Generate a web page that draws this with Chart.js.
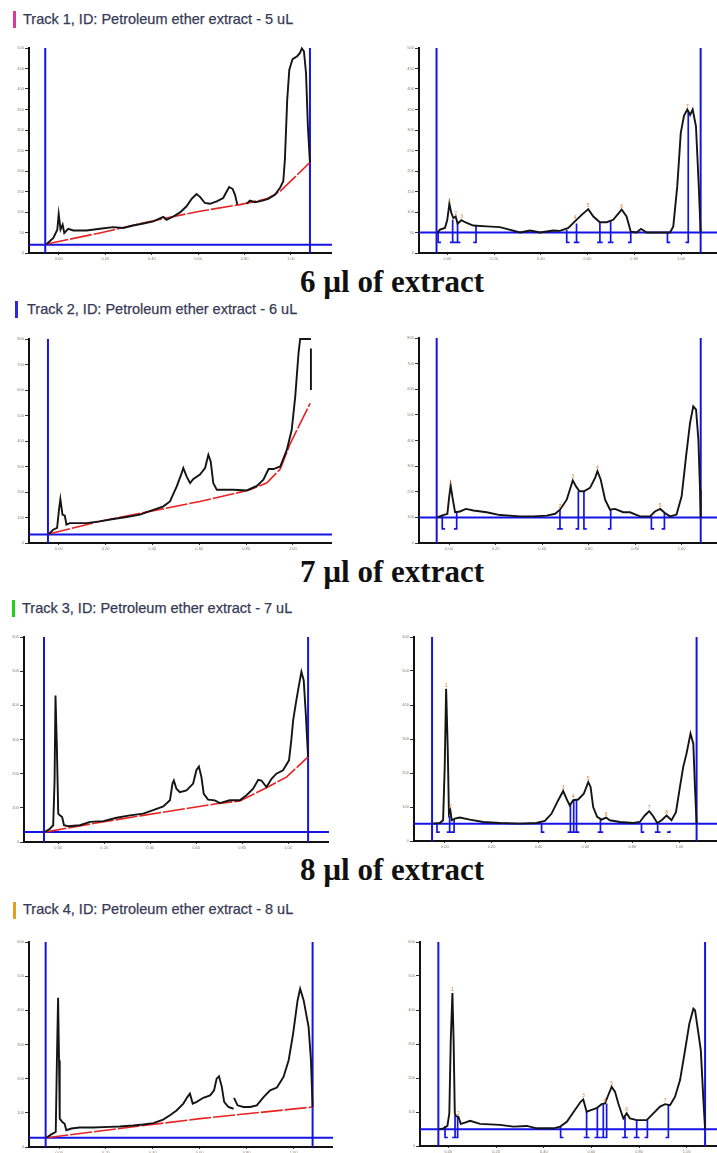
<!DOCTYPE html>
<html>
<head>
<meta charset="utf-8">
<script src="https://cdn.jsdelivr.net/npm/chart.js@4.4.1/dist/chart.umd.min.js"></script>
<style>
body{margin:0;width:717px;height:1153px;overflow:hidden;background:#fff;position:relative;font-family:"Liberation Sans",Arial,sans-serif}
.track{position:absolute;font-size:14.5px;color:#363a55;white-space:nowrap;line-height:1;-webkit-text-stroke:0.25px #363a55}
.bar{position:absolute;width:3px;height:17px}
.dose{position:absolute;font-family:"Liberation Serif","Times New Roman",serif;font-weight:bold;font-size:31px;line-height:1;white-space:nowrap;color:#111}
.panel{position:absolute}
</style>
</head>
<body>
<div class="bar" style="left:13px;top:11px;background:#e0379b"></div>
<div class="track" style="left:23px;top:12px">Track 1, ID: Petroleum ether extract - 5 uL</div>
<div class="dose" style="left:300px;top:266px">6 µl of extract</div>
<div class="bar" style="left:15px;top:301px;background:#2a2ae0"></div>
<div class="track" style="left:27px;top:302px">Track 2, ID: Petroleum ether extract - 6 uL</div>
<div class="dose" style="left:300px;top:556px">7 µl of extract</div>
<div class="bar" style="left:12px;top:600px;background:#22cc22"></div>
<div class="track" style="left:22px;top:601px">Track 3, ID: Petroleum ether extract - 7 uL</div>
<div class="dose" style="left:300px;top:854px">8 µl of extract</div>
<div class="bar" style="left:13px;top:902px;background:#e0a020"></div>
<div class="track" style="left:23px;top:902px">Track 4, ID: Petroleum ether extract - 8 uL</div>

<script>
// tick values
const xTickVals = [0, 0.2, 0.4, 0.6, 0.8, 1.0]
const yTicks500 = [0, 50, 100, 150, 200, 250, 300, 350, 400, 450, 500]
const yTicks800 = [0, 100, 200, 300, 400, 500, 600, 700, 800]
const yTicks600 = [0, 100, 200, 300, 400, 500, 600]

// Track 1 - 5 uL
const t1RawRf = [-0.053,-0.024,-0.007,-0.001,0.007,0.016,0.023,0.040,0.062,0.119,0.177,0.234,0.277,0.320,0.364,0.407,0.450,0.464,0.493,0.522,0.550,0.572,0.593,0.608,0.629,0.651,0.680,0.708,0.723,0.734,0.749,0.759,0.769,0.775,0.809,0.823,0.845,0.874,0.902,0.931,0.953,0.967,0.974,0.984,0.993,1.007,1.027,1.039,1.047,1.056,1.065,1.073,1.082]
const t1RawAu = [22,37,57,95,57,69,49,59,55,55,59,63,61,67,72,77,88,81,89,99,114,132,144,137,122,120,126,134,150,161,156,142,118,null,120,128,124,127,132,142,159,175,228,374,447,473,480,488,499,492,439,309,220]
const t1BaseRf = [-0.053,0.177,0.392,0.608,0.780,0.895,0.953,1.082]
const t1BaseAu = [22,49,77,102,118,132,150,221]
const t1CorrRf = [-0.043,-0.031,-0.010,0.000,0.009,0.017,0.026,0.036,0.044,0.061,0.076,0.111,0.168,0.225,0.254,0.311,0.354,0.397,0.454,0.482,0.518,0.546,0.575,0.603,0.625,0.653,0.682,0.710,0.746,0.767,0.785,0.810,0.829,0.853,0.953,0.967,0.984,0.999,1.013,1.027,1.039,1.050,1.064,1.076,1.084]
const t1CorrAu = [49,57,61,81,120,98,85,89,72,80,75,67,65,63,59,50,55,50,55,54,61,77,93,107,89,75,75,81,106,89,52,50,59,50,50,65,163,293,335,350,337,350,309,163,50]
const t1BrkRf = [-0.039,0.023,0.044,0.123,0.511,0.553,0.653,0.699,0.785,0.942,1.031]
const t1BrkAu = [50,81,72,67,57,72,75,80,50,50,346]
const t1BrkDir = [1,0,0,-1,1,0,0,0,-1,1,-1]
const t1PeakRf = [0.009,0.036,0.061,0.546,0.603,0.746,1.027]
const t1PeakAu = [120,89,80,77,107,106,350]

// Track 2 - 6 uL
const t2RawRf = [-0.043,-0.024,-0.007,0.001,0.007,0.016,0.026,0.033,0.047,0.118,0.175,0.233,0.290,0.347,0.404,0.447,0.475,0.504,0.525,0.532,0.546,0.561,0.575,0.603,0.625,0.639,0.649,0.660,0.675,0.703,0.746,0.803,0.846,0.874,0.896,0.917,0.946,0.974,0.995,1.010,1.024,1.031,1.077,1.077,1.077,1.077]
const t2RawAu = [35,52,59,130,172,111,107,72,78,78,85,94,102,111,130,144,163,222,274,294,261,235,251,268,294,346,320,235,209,209,209,206,224,248,290,290,300,365,444,574,744,800,800,null,763,600]
const t2BaseRf = [-0.043,0.175,0.389,0.603,0.746,0.817,0.888,0.946,0.989,1.074]
const t2BaseAu = [35,85,124,163,193,209,235,290,391,548]
const t2CorrRf = [-0.050,-0.032,-0.007,0.001,0.007,0.016,0.026,0.047,0.073,0.105,0.162,0.219,0.305,0.362,0.420,0.456,0.477,0.506,0.532,0.546,0.561,0.580,0.606,0.628,0.638,0.652,0.671,0.692,0.713,0.749,0.778,0.821,0.864,0.885,0.908,0.928,0.950,0.978,1.000,1.019,1.036,1.050,1.062,1.072,1.079,1.082]
const t2CorrAu = [100,107,114,182,224,172,120,123,133,127,120,109,104,104,107,114,130,169,244,221,202,202,215,254,280,248,169,130,133,120,120,104,104,123,133,117,104,111,182,338,468,533,520,403,208,100]
const t2BrkRf = [-0.029,0.033,0.477,0.556,0.580,0.695,0.870,0.926]
const t2BrkAu = [107,120,130,202,202,130,104,117]
const t2BrkDir = [1,-1,0,-1,1,-1,1,-1]
const t2PeakRf = [0.007,0.477,0.532,0.638,0.908]
const t2PeakAu = [224,130,244,280,133]

// Track 3 - 7 uL
const t3RawRf = [-0.059,-0.036,-0.022,-0.016,-0.012,-0.006,0.000,0.007,0.017,0.025,0.043,0.094,0.138,0.196,0.254,0.312,0.370,0.413,0.457,0.486,0.497,0.503,0.514,0.529,0.558,0.587,0.601,0.612,0.623,0.633,0.652,0.681,0.703,0.746,0.790,0.819,0.848,0.870,0.884,0.906,0.928,0.949,0.978,1.004,1.014,1.022,1.036,1.051,1.058,1.068,1.077,1.083,1.087]
const t3RawAu = [29,39,49,180,429,278,83,78,73,49,46,49,59,61,71,78,83,93,104,122,171,180,156,146,151,171,210,221,190,141,124,122,114,122,122,137,156,182,180,161,185,200,210,239,298,356,415,473,498,473,376,298,249]
const t3BaseRf = [-0.059,0.152,0.370,0.558,0.688,0.790,0.906,0.993,1.087]
const t3BaseAu = [29,54,78,98,112,120,159,190,249]
const t3CorrRf = [-0.050,-0.021,-0.007,0.000,0.006,0.013,0.018,0.024,0.030,0.043,0.064,0.107,0.164,0.235,0.320,0.391,0.427,0.455,0.484,0.505,0.522,0.533,0.548,0.569,0.593,0.612,0.622,0.633,0.650,0.669,0.688,0.704,0.747,0.804,0.832,0.853,0.872,0.889,0.906,0.925,0.946,0.967,0.986,1.003,1.017,1.031,1.048,1.060,1.067,1.074]
const t3CorrAu = [51,53,61,218,448,267,80,90,61,66,69,63,56,53,51,53,59,80,120,147,120,105,120,122,139,173,159,100,71,63,69,61,56,53,56,75,88,73,53,61,75,61,85,159,218,257,316,286,159,51]
const t3BrkRf = [-0.033,0.021,0.040,0.413,0.536,0.550,0.562,0.664,0.839,0.908,0.960]
const t3BrkAu = [51,75,63,53,108,120,122,63,53,53,30]
const t3BrkDir = [1,0,-1,1,0,0,0,0,1,0,-1]
const t3PeakRf = [0.006,0.024,0.505,0.548,0.612,0.688,0.872,0.946]
const t3PeakAu = [448,90,147,120,173,69,88,75]

// Track 4 - 8 uL
const t4RawRf = [-0.054,-0.033,-0.014,-0.009,-0.004,0.000,0.003,0.014,0.024,0.031,0.053,0.088,0.145,0.217,0.259,0.316,0.359,0.402,0.444,0.473,0.501,0.530,0.547,0.558,0.570,0.587,0.615,0.644,0.661,0.672,0.682,0.694,0.704,0.722,0.744,0.745,0.746,0.761,0.786,0.815,0.843,0.872,0.900,0.929,0.957,0.979,0.998,1.017,1.028,1.043,1.064,1.074,1.081]
const t4RawAu = [27,37,44,254,437,254,83,73,68,49,54,57,57,59,60,63,66,70,80,93,107,127,146,156,127,132,144,151,166,200,207,176,132,117,112,null,144,122,117,117,122,146,166,174,205,254,332,429,463,429,351,254,117]
const t4BaseRf = [-0.054,0.174,0.601,1.081]
const t4BaseAu = [27,47,83,117]
const t4CorrRf = [-0.039,-0.021,-0.004,0.004,0.010,0.017,0.022,0.027,0.032,0.042,0.052,0.070,0.091,0.133,0.217,0.273,0.329,0.371,0.441,0.469,0.497,0.531,0.555,0.566,0.580,0.601,0.622,0.643,0.657,0.671,0.685,0.699,0.713,0.734,0.748,0.762,0.790,0.832,0.860,0.888,0.909,0.930,0.951,0.972,0.993,1.011,1.028,1.035,1.042,1.049,1.059,1.070,1.077]
const t4CorrAu = [49,52,59,96,311,450,311,96,88,86,65,69,74,65,62,57,59,52,52,57,71,106,130,137,101,106,111,123,125,150,174,160,125,81,96,81,76,76,96,116,123,120,145,194,282,360,404,399,365,331,282,135,49]
const t4BrkRf = [-0.014,0.028,0.039,0.471,0.580,0.625,0.650,0.664,0.741,0.790,0.835,0.923]
const t4BrkAu = [57,91,88,57,101,114,123,125,86,76,76,123]
const t4BrkDir = [1,0,-1,1,0,0,0,-1,0,0,-1,-1]
const t4PeakRf = [0.017,0.042,0.566,0.657,0.685,0.748,0.909]
const t4PeakAu = [450,86,137,125,174,96,123]

// application positions and detector baselines
const leftStartRf = [-0.059,-0.046,-0.062,-0.057]
const leftFrontRf = [1.082,null,1.087,1.081]
const leftZeroAu = [20,33,29,27]
const rightStartRf = [-0.046,-0.053,-0.054,-0.042]
const rightFrontRf = [1.084,1.082,1.074,1.077]
const rightZeroAu = [50,100,51,49]
const rightFootAu = [26,55,26,25]

const AXW = 24, PADT = 4, AXH = 12
const BLUE = '#1414e6', RED = '#e82222', INK = '#141414', LBL = '#8a7d6e'

function pts(xs, ys){ return xs.map((x,i)=>({x:x, y:ys[i]})) }

function brackets(xs, tops, dirs, foot){
    const out = []
    xs.forEach((x,i)=>{
        out.push({x:x, y:tops[i]}, {x:x, y:foot})
        if(dirs[i] >= 0) out.push({x:x+0.012, y:foot})
        if(dirs[i] <= 0){ out.push({x:x, y:foot}); out.push({x:x-0.012, y:foot}) }
        out.push({x:x, y:null})
    })
    return out
}

function line(data, color, width, extra){
    return Object.assign({data:data, borderColor:color, borderWidth:width, pointRadius:0,
        tension:0, fill:false, clip:4}, extra || {})
}

const peakText = {
    id:'peakText',
    afterDatasetsDraw(chart, args, opts){
        if(!opts || !opts.xs) return
        const ctx = chart.ctx, sx = chart.scales.x, sy = chart.scales.y
        ctx.save()
        ctx.font = '5px "Liberation Sans"'
        ctx.fillStyle = '#e07b2a'
        ctx.textAlign = 'center'
        opts.xs.forEach((v,i)=>{
            ctx.fillText(String(i+1), sx.getPixelForValue(v), sy.getPixelForValue(opts.ys[i]) - 2)
        })
        ctx.restore()
    }
}

function makePanel(p){
    const w = p.right - p.left + AXW, h = p.bottom - p.top + PADT + AXH
    const div = document.createElement('div')
    div.className = 'panel'
    div.style.left = (p.left - AXW) + 'px'
    div.style.top = (p.top - PADT) + 'px'
    const cv = document.createElement('canvas')
    cv.width = w; cv.height = h
    cv.style.width = w + 'px'; cv.style.height = h + 'px'
    div.appendChild(cv)
    document.body.appendChild(div)
    const ymax = p.yTicks[p.yTicks.length-1]
    new Chart(cv, {
        type:'line',
        data:{datasets:p.datasets(ymax)},
        plugins:[peakText],
        options:{
            responsive:false,
            animation:false,
            events:[],
            layout:{padding:{top:PADT, right:0, left:0, bottom:0}},
            plugins:{legend:{display:false}, tooltip:{enabled:false}, peakText:p.peaks || {}},
            scales:{
                x:{
                    type:'linear', min:p.xmin, max:p.xmax,
                    afterBuildTicks: s => { s.ticks = xTickVals.map(v=>({value:v})) },
                    afterFit: s => { s.height = AXH },
                    ticks:{callback: v => v.toFixed(2), font:{size:4}, color:LBL, padding:1, maxRotation:0, autoSkip:false},
                    grid:{display:true, drawOnChartArea:false, drawTicks:true, tickLength:2, color:'#333'},
                    border:{display:true, color:'#111', width:2}
                },
                y:{
                    type:'linear', min:0, max:ymax,
                    afterBuildTicks: s => { s.ticks = p.yTicks.map(v=>({value:v})) },
                    afterFit: s => { s.width = AXW },
                    ticks:{font:{size:4}, color:LBL, padding:1, autoSkip:false},
                    grid:{display:true, drawOnChartArea:false, drawTicks:true, tickLength:4, color:'#333'},
                    border:{display:true, color:'#111', width:2}
                }
            }
        }
    })
}

function leftSets(i, rawRf, rawAu, baseRf, baseAu, xmin, xmax){
    return ymax => {
        const sets = [
            line(pts(rawRf, rawAu), INK, 1.9),
            line(pts(baseRf, baseAu), RED, 1.6, {borderDash:[22,2]}),
            line([{x:xmin, y:leftZeroAu[i]}, {x:xmax, y:leftZeroAu[i]}], BLUE, 2),
            line([{x:leftStartRf[i], y:0}, {x:leftStartRf[i], y:ymax}], BLUE, 2)
        ]
        if(leftFrontRf[i] !== null) sets.push(line([{x:leftFrontRf[i], y:0}, {x:leftFrontRf[i], y:ymax}], BLUE, 2))
        return sets
    }
}

function rightSets(i, corrRf, corrAu, brkRf, brkAu, brkDir, xmin, xmax){
    return ymax => [
        line(pts(corrRf, corrAu), INK, 1.9),
        line(brackets(brkRf, brkAu, brkDir, rightFootAu[i]), BLUE, 1.7),
        line([{x:xmin, y:rightZeroAu[i]}, {x:xmax, y:rightZeroAu[i]}], BLUE, 2),
        line([{x:rightStartRf[i], y:0}, {x:rightStartRf[i], y:ymax}], BLUE, 2),
        line([{x:rightFrontRf[i], y:0}, {x:rightFrontRf[i], y:ymax}], BLUE, 2)
    ]
}

const panels = [
    {left:29, right:332, top:48, bottom:253, xmin:-0.129, xmax:1.177, yTicks:yTicks500,
        datasets:leftSets(0, t1RawRf, t1RawAu, t1BaseRf, t1BaseAu, -0.129, 1.177)},
    {left:419, right:717, top:48, bottom:253, xmin:-0.121, xmax:1.154, yTicks:yTicks500,
        datasets:rightSets(0, t1CorrRf, t1CorrAu, t1BrkRf, t1BrkAu, t1BrkDir, -0.121, 1.154),
        peaks:{xs:t1PeakRf, ys:t1PeakAu}},
    {left:29, right:332, top:339, bottom:543, xmin:-0.127, xmax:1.167, yTicks:yTicks800,
        datasets:leftSets(1, t2RawRf, t2RawAu, t2BaseRf, t2BaseAu, -0.127, 1.167)},
    {left:419, right:717, top:338, bottom:543, xmin:-0.129, xmax:1.152, yTicks:yTicks800,
        datasets:rightSets(1, t2CorrRf, t2CorrAu, t2BrkRf, t2BrkAu, t2BrkDir, -0.129, 1.152),
        peaks:{xs:t2PeakRf, ys:t2PeakAu}},
    {left:24, right:329, top:637, bottom:842, xmin:-0.149, xmax:1.178, yTicks:yTicks600,
        datasets:leftSets(2, t3RawRf, t3RawAu, t3BaseRf, t3BaseAu, -0.149, 1.178)},
    {left:414, right:717, top:637, bottom:841, xmin:-0.131, xmax:1.161, yTicks:yTicks600,
        datasets:rightSets(2, t3CorrRf, t3CorrAu, t3BrkRf, t3BrkAu, t3BrkDir, -0.131, 1.161),
        peaks:{xs:t3PeakRf, ys:t3PeakAu}},
    {left:29, right:333, top:942, bottom:1147, xmin:-0.128, xmax:1.168, yTicks:yTicks600,
        datasets:leftSets(3, t4RawRf, t4RawAu, t4BaseRf, t4BaseAu, -0.128, 1.168)},
    {left:420, right:717, top:942, bottom:1146, xmin:-0.119, xmax:1.127, yTicks:yTicks600,
        datasets:rightSets(3, t4CorrRf, t4CorrAu, t4BrkRf, t4BrkAu, t4BrkDir, -0.119, 1.127),
        peaks:{xs:t4PeakRf, ys:t4PeakAu}}
]

panels.forEach(makePanel)
</script>
</body>
</html>
